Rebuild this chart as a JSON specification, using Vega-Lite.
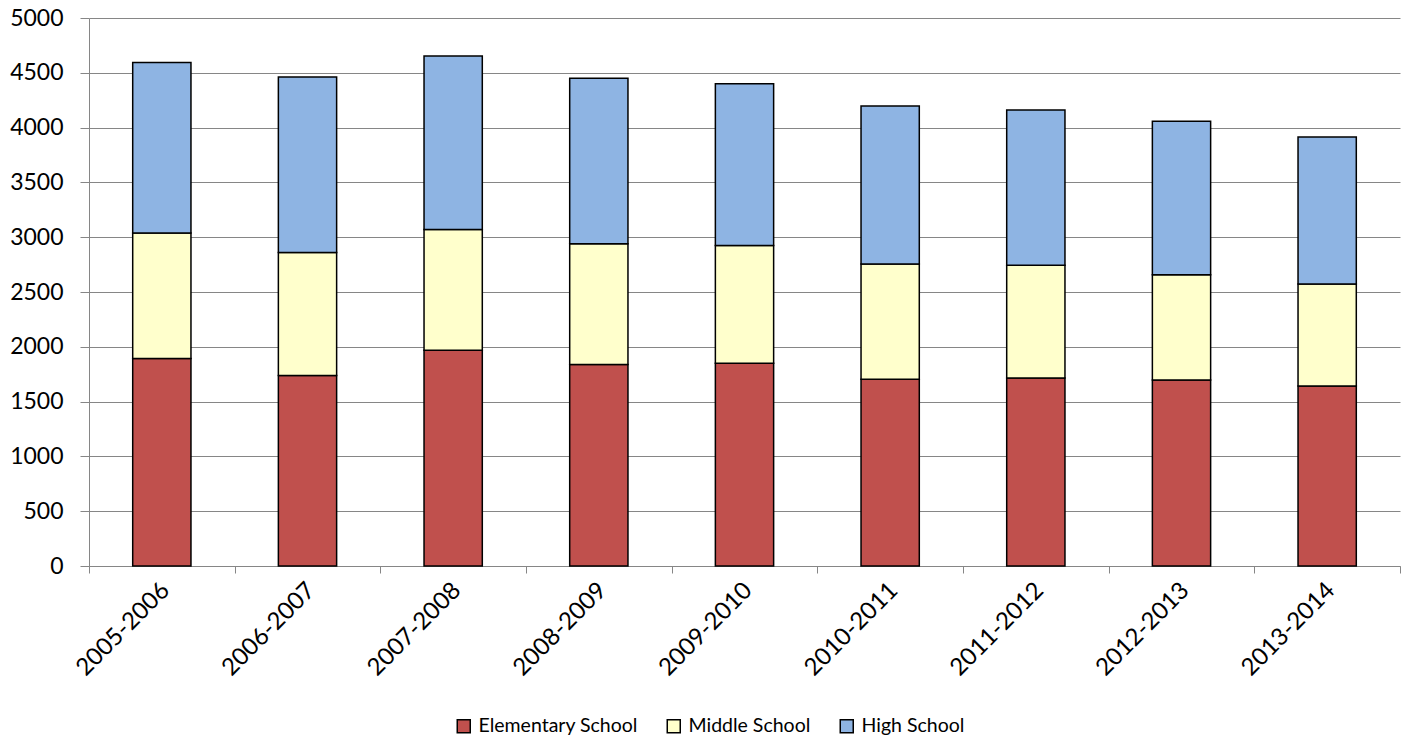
{
  "$schema": "https://vega.github.io/schema/vega-lite/v6.json",
  "width": 1311,
  "height": 548,
  "autosize": {"type": "none"},
  "padding": {"left": 89, "top": 18, "right": 3, "bottom": 172},
  "background": "white",
  "config": {"view": {"stroke": null}, "font": "Lato"},
  "data": {
    "values": [
      {"year": "2005-2006", "level": "Elementary School", "students": 1894},
      {"year": "2005-2006", "level": "Middle School", "students": 1145},
      {"year": "2005-2006", "level": "High School", "students": 1555},
      {"year": "2006-2007", "level": "Elementary School", "students": 1737},
      {"year": "2006-2007", "level": "Middle School", "students": 1124},
      {"year": "2006-2007", "level": "High School", "students": 1600},
      {"year": "2007-2008", "level": "Elementary School", "students": 1968},
      {"year": "2007-2008", "level": "Middle School", "students": 1103},
      {"year": "2007-2008", "level": "High School", "students": 1582},
      {"year": "2008-2009", "level": "Elementary School", "students": 1838},
      {"year": "2008-2009", "level": "Middle School", "students": 1103},
      {"year": "2008-2009", "level": "High School", "students": 1509},
      {"year": "2009-2010", "level": "Elementary School", "students": 1849},
      {"year": "2009-2010", "level": "Middle School", "students": 1075},
      {"year": "2009-2010", "level": "High School", "students": 1477},
      {"year": "2010-2011", "level": "Elementary School", "students": 1705},
      {"year": "2010-2011", "level": "Middle School", "students": 1051},
      {"year": "2010-2011", "level": "High School", "students": 1442},
      {"year": "2011-2012", "level": "Elementary School", "students": 1716},
      {"year": "2011-2012", "level": "Middle School", "students": 1029},
      {"year": "2011-2012", "level": "High School", "students": 1415},
      {"year": "2012-2013", "level": "Elementary School", "students": 1698},
      {"year": "2012-2013", "level": "Middle School", "students": 960},
      {"year": "2012-2013", "level": "High School", "students": 1400},
      {"year": "2013-2014", "level": "Elementary School", "students": 1642},
      {"year": "2013-2014", "level": "Middle School", "students": 932},
      {"year": "2013-2014", "level": "High School", "students": 1341}
    ]
  },
  "transform": [
    {"calculate": "indexof(['Elementary School','Middle School','High School'], datum.level)", "as": "stackOrder"}
  ],
  "mark": {"type": "bar", "stroke": "black", "strokeWidth": 1.5, "width": {"band": 0.4}},
  "encoding": {
    "x": {
      "field": "year",
      "type": "nominal",
      "sort": null,
      "scale": {"paddingInner": 0, "paddingOuter": 0},
      "axis": {
        "title": null,
        "labelAngle": -45,
        "tickBand": "extent",
        "domainColor": "#868686",
        "tickColor": "#868686",
        "tickSize": 7,
        "labelFontSize": 24,
        "labelColor": "black",
        "labelPadding": 5,
        "labelOffset": -5,
        "labelLimit": 0,
        "grid": false
      }
    },
    "y": {
      "field": "students",
      "type": "quantitative",
      "stack": "zero",
      "scale": {"domain": [0, 5000], "nice": false},
      "axis": {
        "title": null,
        "values": [0, 500, 1000, 1500, 2000, 2500, 3000, 3500, 4000, 4500, 5000],
        "format": "d",
        "domainColor": "#868686",
        "tickColor": "#868686",
        "tickSize": 9,
        "labelPadding": 17,
        "labelFontSize": 23,
        "labelColor": "black",
        "gridColor": "#868686",
        "gridWidth": 1
      }
    },
    "color": {
      "field": "level",
      "type": "nominal",
      "scale": {
        "domain": ["Elementary School", "Middle School", "High School"],
        "range": ["#C0504D", "#FFFFCC", "#8EB4E3"]
      },
      "legend": {
        "title": null,
        "orient": "none",
        "direction": "horizontal",
        "legendX": 365,
        "legendY": 698,
        "symbolType": "square",
        "symbolSize": 169,
        "symbolStrokeColor": "black",
        "symbolStrokeWidth": 1.5,
        "symbolOpacity": 1,
        "labelFontSize": 19.5,
        "labelColor": "black",
        "labelLimit": 0,
        "labelOffset": 5,
        "columnPadding": 26
      }
    },
    "order": {"field": "stackOrder", "type": "quantitative"}
  }
}
